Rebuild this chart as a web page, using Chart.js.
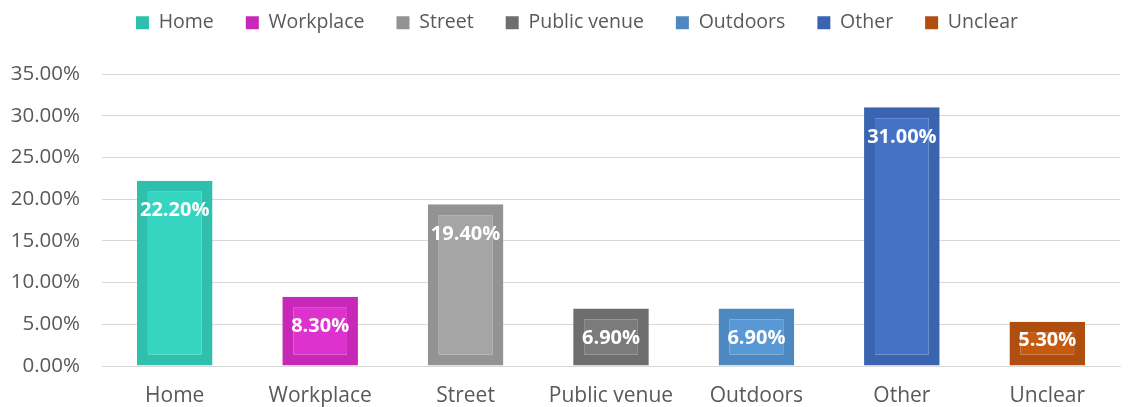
<!DOCTYPE html>
<html>
<head>
<meta charset="utf-8">
<script src="https://cdn.jsdelivr.net/npm/chart.js@4.4.1/dist/chart.umd.min.js"></script>
<style>
  html, body { margin: 0; padding: 0; background: #fff; }
  #wrap { width: 1128px; height: 407px; position: relative; }
</style>
</head>
<body>
<div id="wrap"><canvas id="location-chart"></canvas></div>
<script>
const categories = ['Home', 'Workplace', 'Street', 'Public venue', 'Outdoors', 'Other', 'Unclear']
const shares = [22.2, 8.3, 19.4, 6.9, 6.9, 31.0, 5.3]
// edge colour and lighter inner fill for each bar
const edgeColors = ['#2EBFAD', '#C828B8', '#939393', '#6E6E6E', '#4E88C0', '#3A64B0', '#B04E10']
const fillColors = ['#36D5C1', '#DE32CE', '#A5A5A5', '#7B7B7B', '#5898D4', '#4472C4', '#C55A11']
const yTicks = [0, 5, 10, 15, 20, 25, 30, 35]

const textColor = '#595959'
const fontFamily = '"Open Sans", "Noto Sans", sans-serif'

// writes the value inside the top of each bar, nudged up on short bars
const valueLabels = {
  id: 'valueLabels',
  afterDatasetsDraw (chart) {
    const ctx = chart.ctx
    const meta = chart.getDatasetMeta(0)
    ctx.save()
    ctx.fillStyle = '#ffffff'
    ctx.font = 'bold 20px ' + fontFamily
    ctx.textAlign = 'center'
    ctx.textBaseline = 'middle'
    meta.data.forEach((bar, i) => {
      const y = Math.min(bar.y + 30, bar.base - 25)
      ctx.fillText(shares[i].toFixed(2) + '%', bar.x, y)
    })
    ctx.restore()
  }
}

// keeps the legend row high up and leaves a gap above the plot
const legendSpacing = {
  id: 'legendSpacing',
  beforeLayout (chart) {
    const legend = chart.legend
    if (legend && !legend._spaced) {
      const fit = legend.fit
      legend.fit = function () {
        fit.call(this)
        this.height = 74
      }
      legend._spaced = true
    }
  },
  afterLayout (chart) {
    const legend = chart.legend
    if (!legend) return
    legend.top = -19
    legend.left += 14
    legend.right += 14
  }
}

const ctx = document.getElementById('location-chart').getContext('2d')
new Chart(ctx, {
  type: 'bar',
  data: {
    labels: categories,
    datasets: [{
      data: shares,
      backgroundColor: fillColors,
      borderColor: edgeColors,
      borderWidth: 11,
      borderSkipped: false,
      categoryPercentage: 1,
      barPercentage: 0.52
    }]
  },
  options: {
    responsive: true,
    maintainAspectRatio: false,
    animation: false,
    layout: { padding: { left: 6, right: 8, top: 0, bottom: 0 } },
    plugins: {
      tooltip: { enabled: false },
      legend: {
        position: 'top',
        labels: {
          color: textColor,
          font: { family: fontFamily, size: 19.5 },
          boxWidth: 13,
          boxHeight: 13,
          padding: 32,
          generateLabels (chart) {
            return categories.map((name, i) => ({
              text: name,
              fillStyle: edgeColors[i],
              strokeStyle: edgeColors[i],
              lineWidth: 0,
              fontColor: textColor,
              index: i
            }))
          }
        }
      }
    },
    scales: {
      x: {
        grid: { display: false, drawTicks: false },
        border: { color: '#d9d9d9', width: 1 },
        ticks: {
          color: textColor,
          font: { family: fontFamily, size: 21, lineHeight: 1 },
          padding: 20,
          maxRotation: 0,
          autoSkip: false
        },
        afterFit (scale) {
          scale.height = 41
        }
      },
      y: {
        min: 0,
        max: 35,
        afterBuildTicks (axis) {
          axis.ticks = yTicks.map(v => ({ value: v }))
        },
        grid: { color: '#d9d9d9', lineWidth: 1, drawTicks: false },
        border: { display: false },
        ticks: {
          color: textColor,
          font: { family: fontFamily, size: 20.5 },
          padding: 22,
          callback: v => v.toFixed(2) + '%'
        },
        afterFit (scale) {
          scale.width = 96
        }
      }
    }
  },
  plugins: [valueLabels, legendSpacing]
})
</script>
</body>
</html>
